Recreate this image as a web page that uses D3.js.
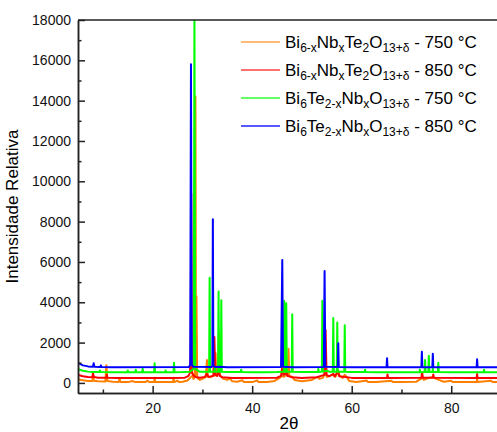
<!DOCTYPE html>
<html>
<head>
<meta charset="utf-8">
<script src="https://cdn.jsdelivr.net/npm/d3@7"></script>
<style>
  body { margin: 0; background: #fff; }
  svg { display: block; font-family: "Liberation Sans", Arial, sans-serif; }
  .axis text { font-size: 14px; fill: #111; }
  .axis .domain, .axis line { stroke: #222; stroke-width: 1.5; }
</style>
</head>
<body>
<div id="chart"></div>
<script>
// x ticks, y ticks
var xMajor = [20, 40, 60, 80],
    xMinor = [10, 30, 50, 70, 90];
var yMajor = [0, 2000, 4000, 6000, 8000, 10000, 12000, 14000, 16000, 18000],
    yMinor = [1000, 3000, 5000, 7000, 9000, 11000, 13000, 15000, 17000];

// [2theta, intensity]
var orange750 = [[5,180],[6,130],[7,100],[7.9,90],[8.05,380],[8.2,110],[9,80],[10.5,70],[10.7,880],[10.9,90],
  [12,60],[13.2,50],[13.35,230],[13.5,50],[15,40],[16,90],[16.5,40],[17,50],[18.5,40],[19,110],[19.3,40],[20.3,40],[20.4,260],[20.5,40],
  [22,40],[24.1,40],[24.2,260],[24.3,40],[25,110],[25.3,50],[26,60],[27,120],[27.5,250],[27.7,300],[28.0,350],[28.2,200],
  [28.45,300],[28.6,14200],[28.7,400],[28.8,4300],[28.95,250],[29.5,150],[30.0,200],[30.7,300],[30.9,1140],[31.1,300],
  [31.5,280],[32.0,330],[32.5,400],[32.65,1470],[32.8,350],[33.15,500],[33.3,2540],[33.45,400],[33.9,300],[34.2,200],
  [35,150],[35.5,230],[36,80],[37,60],[38,130],[38.3,50],[40,40],[41,120],[41.3,40],[43,50],[44.5,100],[45.5,250],[46,350],[46.4,300],[46.8,400],
  [47.15,350],[47.3,1690],[47.45,350],[48.1,300],[48.5,150],[50,80],[52,150],[52.7,250],[53.2,300],[53.5,200],
  [54.2,250],[54.7,500],[55,300],[55.5,350],[56.2,400],[56.7,300],[57.2,500],[57.6,350],[58.2,250],[58.6,400],
  [59,300],[59.5,100],[61,50],[63,120],[63.3,40],[65,40],[68,110],[68.3,40],[70,40],[73,60],[74.2,250],[74.5,150],[75.5,250],[76.3,300],
  [77,200],[77.5,150],[78.5,60],[80,110],[80.3,40],[82,40],[85.1,40],[85.2,200],[85.3,40],[88,110],[88.3,40],[90,40]];

var red850 = [[5,400],[6,330],[7,290],[7.9,280],[8.0,480],[8.2,290],[9,260],[10.7,260],[10.8,400],[10.9,260],
  [13,250],[20,250],[24,250],[26.5,260],[27.2,350],[27.5,500],[27.65,1500],[27.75,9400],[27.9,500],[28.3,350],
  [28.6,300],[29.5,260],[30.5,300],[30.9,450],[31.2,300],[32.2,350],[32.4,2280],[32.6,400],[33.0,350],[33.3,700],
  [33.5,350],[34,280],[36,250],[45,260],[45.8,350],[46.1,900],[46.3,400],[46.9,500],[47.1,350],[48,280],
  [50,250],[53,280],[54.5,400],[54.75,2630],[54.95,400],[55.5,330],[56.3,450],[56.6,330],[57.3,600],[57.5,330],
  [58.5,300],[60,250],[67.1,250],[67.2,420],[67.3,250],[74,260],[74.15,520],[74.3,260],[76.3,260],[76.4,420],
  [76.5,260],[85.1,250],[85.2,440],[85.3,250],[90,250]];

var green750 = [[5,680],[6,600],[7,560],[8,540],[9.3,540],[9.4,620],[9.5,540],[12,530],[14.9,530],[15,620],
  [15.1,530],[16.5,530],[16.6,650],[16.7,530],[17.9,530],[18,700],[18.1,530],[20.3,530],[20.4,975],[20.5,530],
  [22.5,530],[22.6,620],[22.7,530],[24.2,530],[24.3,1000],[24.4,530],[26,540],[27.5,560],[28.25,700],[28.4,18500],
  [28.55,700],[29.5,550],[31.35,560],[31.45,5220],[31.55,560],[32.4,560],[32.5,800],[32.6,560],[33.15,560],[33.25,4530],
  [33.35,560],[33.7,560],[33.8,4100],[33.9,560],[35,540],[37.7,540],[37.8,650],[37.9,540],[40,530],[43,530],
  [45,540],[46.35,560],[46.45,4065],[46.55,560],[46.75,560],[46.85,3950],[46.95,560],[47.95,560],[48.05,3400],[48.15,560],
  [50,540],[53.2,540],[53.3,700],[53.4,540],[54.0,560],[54.1,4080],[54.2,560],[55,600],[55.5,560],[56.2,560],
  [56.3,3220],[56.4,560],[57.0,560],[57.1,3000],[57.2,560],[58.5,560],[58.6,2860],[58.7,560],[60,540],[62.6,540],
  [62.7,650],[62.8,540],[65,530],[70,530],[73.6,530],[73.7,660],[73.8,530],[74.65,540],[74.75,1140],[74.85,540],
  [75.4,540],[75.5,1350],[75.6,540],[76.2,540],[76.3,700],[76.4,540],[77.3,540],[77.4,1000],[77.5,540],[80,530],
  [86.5,530],[86.6,650],[86.7,530],[90,530]];

var blue850 = [[5,990],[6,870],[7,820],[8.0,800],[8.15,975],[8.3,800],[9.5,790],[9.6,870],[9.7,790],[12,780],
  [27.3,790],[27.55,900],[27.7,15800],[27.85,900],[28.2,800],[31.8,790],[32.0,850],[32.1,8115],[32.2,850],[32.5,790],
  [33.5,800],[35,780],[45.8,790],[46.05,6100],[46.2,800],[48,780],[54.4,790],[54.55,5550],[54.7,800],[57.2,790],
  [57.3,1970],[57.4,790],[60,780],[67.0,780],[67.1,1220],[67.2,780],[74.0,780],[74.1,1540],[74.2,780],[76.2,780],
  [76.3,1450],[76.4,780],[85.1,780],[85.2,1170],[85.3,780],[90,780]];

var series = [
  {data: orange750, color: "#ff8000", legendColor: "#ffa64d"},
  {data: red850,    color: "#ff0000", legendColor: "#ff4040"},
  {data: green750,  color: "#00ff00", legendColor: "#33ff33"},
  {data: blue850,   color: "#0000ff", legendColor: "#2020ff"}
];

// set the dimensions and margins of the graph
var margin = {top: 20, right: 0, bottom: 39, left: 78},
    width = 423,
    height = 373;

var x = d3.scaleLinear().domain([5, 90]).range([0, width]);
var y = d3.scaleLinear().domain([-500, 18000]).range([height, 0]);

var svg = d3.select("#chart")
  .append("svg")
    .attr("width", 497)
    .attr("height", 432)
  .append("g")
    .attr("transform", "translate(" + margin.left + "," + margin.top + ")");

svg.append("clipPath").attr("id", "clip")
  .append("rect").attr("width", width).attr("height", height);

var line = d3.line()
    .x(function(d) { return x(d[0]); })
    .y(function(d) { return y(d[1]); });

svg.append("g").attr("clip-path", "url(#clip)")
  .selectAll("path")
  .data(series)
  .enter().append("path")
    .attr("fill", "none")
    .attr("stroke", function(d) { return d.color; })
    .attr("stroke-width", 2)
    .attr("stroke-linejoin", "round")
    .attr("d", function(d) { return line(d.data); });

// top frame
svg.append("line")
  .attr("x1", 0).attr("x2", width)
  .attr("y1", 0).attr("y2", 0)
  .attr("stroke", "#222").attr("stroke-width", 1.5);

// axes (ticks inward)
svg.append("g").attr("class", "axis")
  .attr("transform", "translate(0," + height + ")")
  .call(d3.axisBottom(x).tickValues(xMajor).tickSizeInner(-7).tickSizeOuter(0).tickPadding(10));
svg.append("g").attr("class", "axis")
  .attr("transform", "translate(0," + height + ")")
  .call(d3.axisBottom(x).tickValues(xMinor).tickSizeInner(-3.5).tickSizeOuter(0).tickFormat(""));

svg.append("g").attr("class", "axis")
  .call(d3.axisLeft(y).tickValues(yMajor).tickFormat(d3.format("d"))
    .tickSizeInner(-7).tickSizeOuter(0).tickPadding(7));
svg.append("g").attr("class", "axis")
  .call(d3.axisLeft(y).tickValues(yMinor).tickSizeInner(-3.5).tickSizeOuter(0).tickFormat(""));

// axis titles
svg.append("text")
  .attr("transform", "rotate(-90)")
  .attr("x", -height / 2)
  .attr("y", -60)
  .attr("text-anchor", "middle")
  .style("font-size", "17px")
  .text("Intensidade Relativa");

svg.append("text")
  .attr("x", 211)
  .attr("y", 409)
  .attr("text-anchor", "middle")
  .style("font-size", "17px")
  .text("2θ");

// legend: each label as [text, isSubscript] pieces
var labels = [
  [["Bi",0],["6-x",1],["Nb",0],["x",1],["Te",0],["2",1],["O",0],["13+δ",1],[" - 750 °C",0]],
  [["Bi",0],["6-x",1],["Nb",0],["x",1],["Te",0],["2",1],["O",0],["13+δ",1],[" - 850 °C",0]],
  [["Bi",0],["6",1],["Te",0],["2-x",1],["Nb",0],["x",1],["O",0],["13+δ",1],[" - 750 °C",0]],
  [["Bi",0],["6",1],["Te",0],["2-x",1],["Nb",0],["x",1],["O",0],["13+δ",1],[" - 850 °C",0]]
];

var legend = svg.selectAll(".legend")
  .data(series)
  .enter().append("g")
    .attr("class", "legend")
    .attr("transform", function(d, i) { return "translate(163," + (22 + i * 28) + ")"; });

legend.append("line")
  .attr("x1", 0).attr("x2", 39)
  .attr("stroke", function(d) { return d.legendColor; })
  .attr("stroke-width", 1.5);

legend.append("text")
  .attr("x", 44)
  .attr("y", 6)
  .style("font-size", "17px")
  .each(function(d, i) {
    var t = d3.select(this);
    labels[i].forEach(function(p) {
      t.append("tspan")
        .attr("font-size", p[1] ? "12px" : "17px")
        .attr("baseline-shift", p[1] ? "-4" : "0")
        .text(p[0]);
    });
  });
</script>
</body>
</html>
